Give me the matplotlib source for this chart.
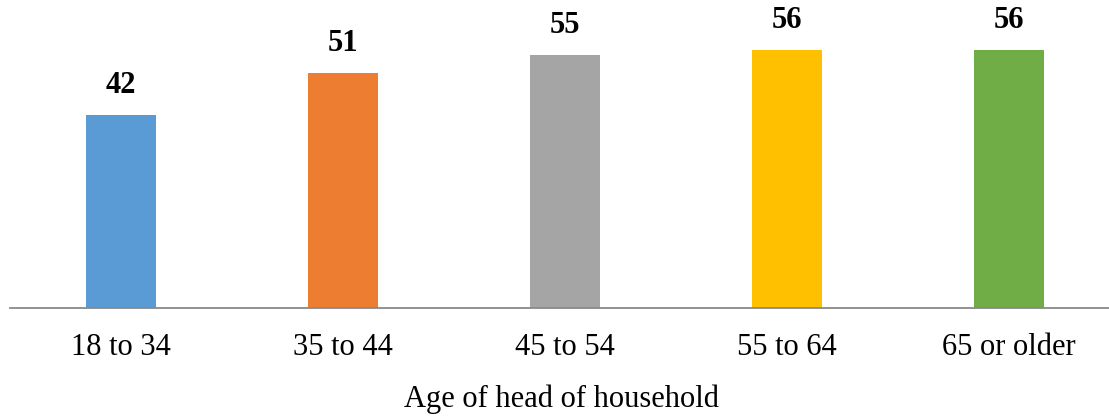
import matplotlib
matplotlib.use("Agg")
import matplotlib.pyplot as plt

categories = ["18 to 34", "35 to 44", "45 to 54", "55 to 64", "65 or older"]
values = [42, 51, 55, 56, 56]
colors = ["#5B9BD5", "#ED7D31", "#A5A5A5", "#FFC000", "#70AD47"]
x_label = "Age of head of household"

plt.rcParams["font.family"] = ["Liberation Serif", "DejaVu Serif"]

W, H = 1109, 416
fig = plt.figure(figsize=(W / 100, H / 100), dpi=100)

# axes placed in pixel terms: baseline near y=308, one category slot = 222 px
left_px, right_px = 10, 1109
base_px, top_px = 308, 32
ax = fig.add_axes([left_px / W, (H - base_px) / H,
                   (right_px - left_px) / W, (base_px - top_px) / H])

xpos = list(range(len(categories)))
bars = ax.bar(xpos, values, width=0.315, color=colors, zorder=2)

ax.set_xlim(-0.5, -0.5 + (right_px - left_px) / 222)
ax.set_ylim(0, 60)

for b, v in zip(bars, values):
    ax.annotate(f"{v}", (b.get_x() + b.get_width() / 2, v),
                xytext=(0, 11), textcoords="offset points",
                ha="center", va="bottom", fontsize=22, fontweight="bold")

for s in ["top", "right", "left"]:
    ax.spines[s].set_visible(False)
ax.spines["bottom"].set_color("#898989")
ax.spines["bottom"].set_linewidth(1.3)
ax.set_yticks([])
ax.set_xticks(xpos)
ax.set_xticklabels(categories, fontsize=22)
ax.tick_params(axis="x", length=0, pad=18)

fig.text(561 / W, 1 - 399 / H, x_label, ha="center", va="center", fontsize=22)

fig.savefig("out.png", dpi=100)
